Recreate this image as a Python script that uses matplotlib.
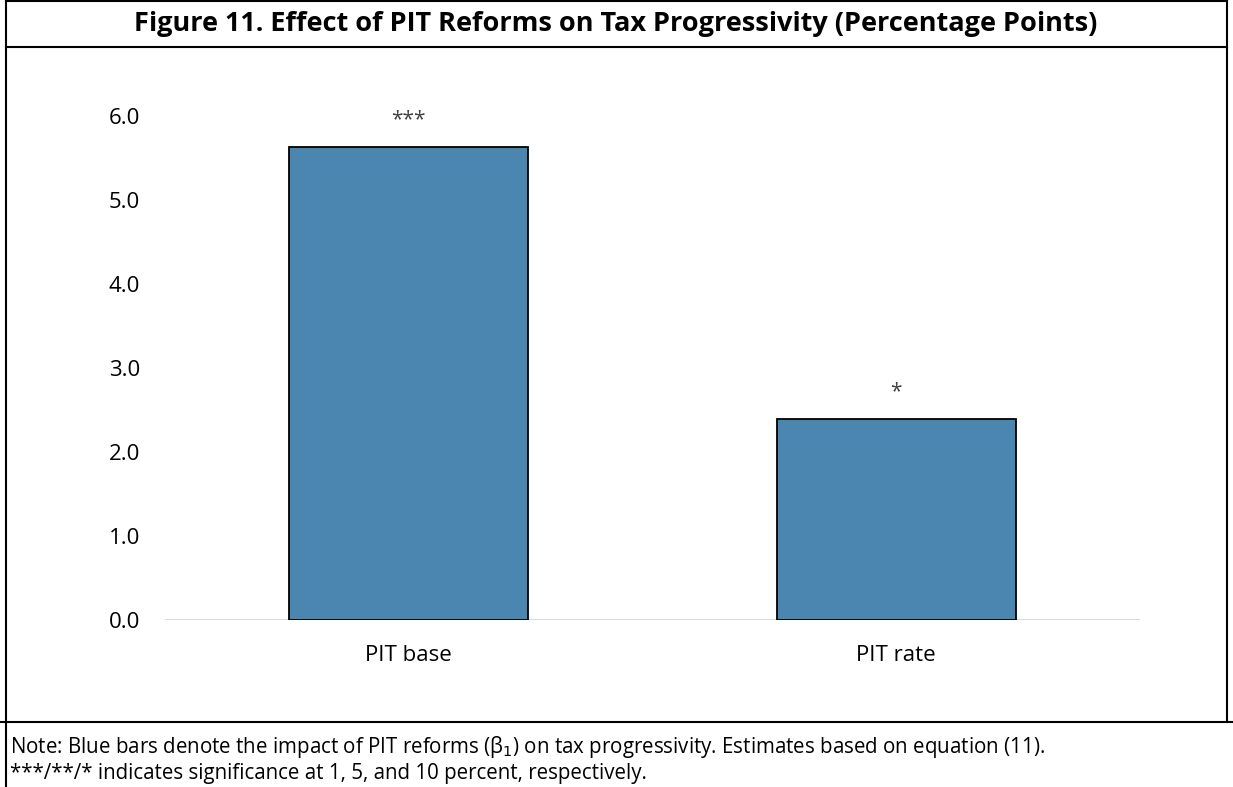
import matplotlib
matplotlib.use("Agg")
import matplotlib.pyplot as plt
from matplotlib.lines import Line2D

plt.rcParams['font.family'] = ['Open Sans', 'DejaVu Sans']

categories = ["PIT base", "PIT rate"]
values = [5.63, 2.39]
stars = ["***", "*"]
yticks = [0.0, 1.0, 2.0, 3.0, 4.0, 5.0, 6.0]

W, H = 1233, 787
fig = plt.figure(figsize=(W / 100, H / 100), dpi=100)

def fx(px):
    return px / W

def fy(py):
    return 1 - py / H

# axes: left 165, right 1140, y=0 at 620, y=6 at 116
ax = fig.add_axes([fx(165), fy(620), fx(1140 - 165), (620 - 116) / H])
x = list(range(len(categories)))
ax.bar(x, values, width=0.49, color="#4A86AF", edgecolor="black", linewidth=1.3, zorder=3)
ax.set_xlim(-0.5, 1.5)
ax.set_ylim(0, 6.0)
ax.set_yticks(yticks)
ax.set_yticklabels([f"{v:.1f}" for v in yticks], fontsize=16)
ax.set_xticks(x)
ax.set_xticklabels(categories, fontsize=16)
for s in ax.spines.values():
    s.set_visible(False)
ax.tick_params(axis="both", length=0)
ax.tick_params(axis="y", pad=18)
ax.tick_params(axis="x", pad=18)
ax.axhline(0, color="#D9D9D9", linewidth=1.5, zorder=1)
for xi, v, s in zip(x, values, stars):
    ax.text(xi, v + 0.33, s, ha="center", va="center", fontsize=15, color="#404040",
            clip_on=False)

# frame lines
lw = 1.5
fig.add_artist(Line2D([fx(6), fx(1227)], [fy(1), fy(1)], color="black", lw=lw))
fig.add_artist(Line2D([fx(6), fx(1227)], [fy(47), fy(47)], color="black", lw=lw))
fig.add_artist(Line2D([fx(6), fx(6)], [fy(0), fy(787)], color="black", lw=lw))
fig.add_artist(Line2D([fx(1227), fx(1227)], [fy(0), fy(722)], color="black", lw=lw))
fig.add_artist(Line2D([fx(0), fx(1233)], [fy(722), fy(722)], color="black", lw=lw))

fig.text(fx(616), fy(24), "Figure 11. Effect of PIT Reforms on Tax Progressivity (Percentage Points)",
         ha="center", va="center", fontsize=19.5, fontweight="bold")
fig.text(fx(10), fy(747), "Note: Blue bars denote the impact of PIT reforms (β$_1$) on tax progressivity. Estimates based on equation (11).",
         ha="left", va="center", fontsize=14.8)
fig.text(fx(10), fy(773), "***/**/* indicates significance at 1, 5, and 10 percent, respectively.",
         ha="left", va="center", fontsize=14.8)

fig.savefig("out.png", dpi=100)
